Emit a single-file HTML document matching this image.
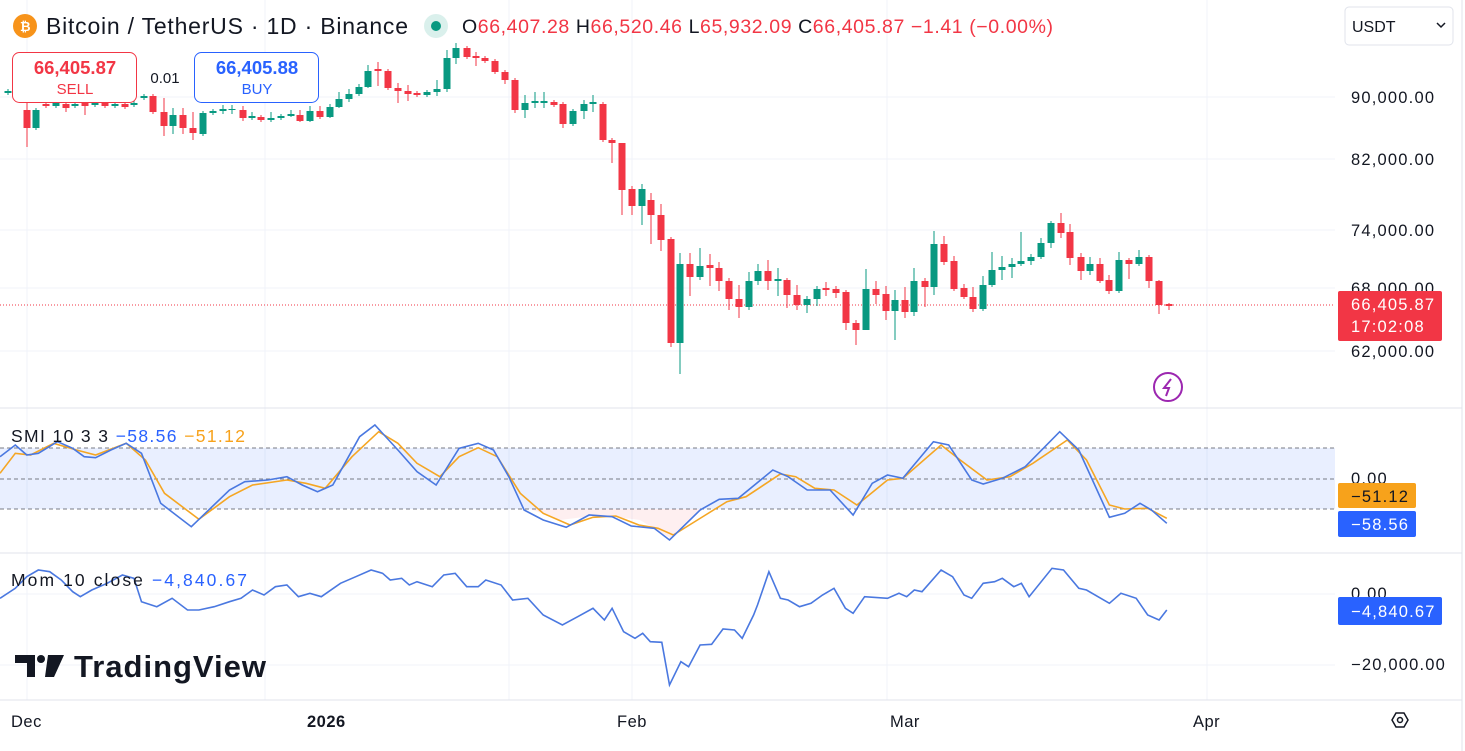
<!DOCTYPE html>
<html><head><meta charset="utf-8"><style>
body{margin:0;width:1465px;height:751px;overflow:hidden;background:#fff;font-family:"Liberation Sans","DejaVu Sans",sans-serif;}
svg{position:absolute;left:0;top:0}
</style></head><body>
<svg id="s" width="1465" height="751" xmlns="http://www.w3.org/2000/svg"></svg>
<script>
const S=document.getElementById('s');let h='';
const G='#089981',R='#f23645';
[97,159,230,288,351].forEach(y=>h+=`<line x1="0" x2="1335" y1="${y}" y2="${y}" stroke="#f0f3fa"/>`);
[27,265,509,632,887,1207].forEach(x=>h+=`<line x1="${x}" x2="${x}" y1="0" y2="700" stroke="#f0f3fa"/>`);
h+=`<line x1="0" x2="1462" y1="408" y2="408" stroke="#e0e3eb"/><line x1="0" x2="1462" y1="553" y2="553" stroke="#e0e3eb"/><line x1="0" x2="1462" y1="700" y2="700" stroke="#e0e3eb"/><line x1="1462" x2="1462" y1="0" y2="751" stroke="#e0e3eb"/>`;
h+=`<line x1="0" x2="1335" y1="594" y2="594" stroke="#f0f3fa"/><line x1="0" x2="1335" y1="665" y2="665" stroke="#f0f3fa"/>`;
h+=`<line x1="0" x2="1335" y1="305" y2="305" stroke="${R}" stroke-dasharray="1 2"/>`;
const C=[[8,91,93,'g'],[17,92,94,'r'],[27,110,128,'r',100,147],[36,110,128,'g'],[46,104,106,'r'],[56,103,106,'g'],[66,104,108,'r',100,112],[75,104,106,'g'],[85,103,106,'r',100,115],[95,103,105,'g'],[105,103,106,'r'],[115,104,106,'g'],[125,104,107,'r'],[134,103,105,'g'],[144,96,98,'g'],[153,96,112,'r'],[164,112,126,'r',98,136],[173,115,126,'g',108,134],[183,115,128,'r',108,134],[193,128,133,'r',112,140],[203,113,134,'g'],[213,111,113,'g'],[223,109,111,'g',105,114],[232,109,110,'g',105,114],[243,110,118,'r',106,121],[252,116,118,'g',112,120],[261,117,120,'r'],[271,118,120,'g',112,122],[281,116,118,'g'],[291,114,116,'g',110,117],[300,115,121,'r',110,122],[310,111,121,'g',106,122],[320,111,117,'r',106,119],[330,107,117,'g',104,118],[339,99,107,'g',92,108],[349,94,99,'g',89,102],[359,87,94,'g',84,96],[368,71,87,'g',65,88],[378,69,71,'r',62,86],[388,71,88,'r'],[398,88,91,'r',83,103],[408,91,94,'r',85,101],[417,93,95,'r'],[427,92,95,'g'],[437,89,92,'g',80,96],[447,58,89,'g',50,92],[456,48,58,'g',43,64],[467,48,57,'r'],[476,56,58,'r',52,66],[485,58,61,'r'],[495,61,72,'r'],[505,72,80,'r',70,84],[515,80,110,'r',78,113],[525,103,110,'g',95,118],[535,101,103,'g',92,108],[544,101,103,'g',92,108],[554,102,105,'r'],[563,104,124,'r',102,128],[573,111,124,'g'],[584,104,111,'g',100,119],[593,102,104,'g',95,112],[603,104,140,'r'],[612,140,143,'r',138,163],[622,143,190,'r',143,215],[632,189,206,'r',186,215],[642,189,206,'g',184,225],[651,200,215,'r',193,244],[661,215,240,'r',204,251],[671,239,343,'r',237,347],[680,264,343,'g',253,374],[690,264,277,'r',253,296],[700,266,277,'g',248,280],[710,265,268,'r',254,286],[719,268,281,'r',262,291],[729,281,299,'r',278,310],[739,299,307,'r',285,318],[749,281,307,'g',272,310],[758,271,281,'g',264,285],[768,271,281,'r',260,290],[778,279,281,'g',268,296],[787,280,295,'r',278,308],[797,295,305,'r',285,310],[807,299,305,'g',296,313],[817,289,299,'g',286,306],[826,288,290,'r',282,296],[836,289,293,'r',286,298],[846,292,323,'r',290,330],[856,323,330,'r',320,345],[866,289,330,'g',269,330],[876,289,295,'r',281,304],[886,294,311,'r',286,320],[895,300,311,'g',290,340],[905,300,312,'r',287,318],[914,281,312,'g',268,316],[925,281,287,'r',278,307],[934,244,287,'g',231,295],[944,244,262,'r',236,265],[954,261,289,'r',256,291],[964,288,297,'r',284,299],[973,297,309,'r',287,312],[983,285,309,'g',276,311],[992,270,285,'g',252,287],[1002,267,270,'g',256,280],[1012,264,267,'g',258,278],[1021,261,264,'g',232,266],[1031,257,261,'g',254,265],[1041,243,257,'g',238,259],[1051,223,243,'g',221,248],[1061,223,233,'r',213,238],[1070,232,258,'r',224,265],[1081,257,271,'r',253,280],[1090,264,271,'g',257,275],[1100,264,281,'r',258,283],[1109,280,291,'r',275,294],[1119,260,291,'g',252,293],[1129,260,264,'r',258,279],[1139,257,264,'g',250,266],[1149,257,281,'r',255,288],[1159,281,305,'r',280,314],[1169,304,306,'r',303,310]];
C.forEach(c=>{const col=c[3]=='g'?G:R;const hi=c[4]??c[1]-2,lo=c[5]??c[2]+2;
h+=`<line x1="${c[0]}" x2="${c[0]}" y1="${hi}" y2="${lo}" stroke="${col}"/><rect x="${c[0]-3.5}" y="${c[1]}" width="7" height="${Math.max(1,c[2]-c[1])}" fill="${col}"/>`;});
h+=`<rect x="0" y="448" width="1335" height="61" fill="#2962ff" fill-opacity="0.1"/>`;
[448,479,509].forEach(y=>h+=`<line x1="0" x2="1335" y1="${y}" y2="${y}" stroke="#787b86" stroke-dasharray="4 3"/>`);
const pl=(pts,sx,oy,col)=>'<polyline fill="none" stroke="'+col+'" stroke-width="1.6" points="'+pts.map(p=>(p[0]/sx).toFixed(1)+','+(oy+p[1]/3).toFixed(1)).join(' ')+'"/>';
const B=[[0,140],[20,105],[35,135],[50,130],[75,95],[95,115],[110,140],[125,143],[145,120],[165,100],[185,130],[210,280],[250,350],[300,240],[320,215],[350,210],[375,200],[395,225],[415,245],[435,225],[470,80],[490,45],[520,120],[545,185],[570,225],[600,115],[625,100],[645,120],[665,200],[685,300],[710,330],[740,352],[770,315],[800,320],[825,348],[855,355],[875,390],[915,300],[940,268],[965,265],[1010,180],[1030,200],[1055,240],[1085,240],[1115,315],[1140,220],[1160,195],[1180,205],[1220,95],[1240,105],[1270,210],[1285,222],[1310,205],[1340,170],[1385,65],[1410,120],[1450,322],[1470,310],[1490,280],[1505,300],[1525,340]];
const O=[[0,190],[20,130],[40,135],[70,100],[100,120],[125,135],[165,100],[190,150],[215,250],[260,328],[300,260],[330,225],[375,210],[400,220],[425,235],[460,140],[495,65],[520,100],[545,160],[575,200],[600,140],[625,113],[650,140],[680,250],[710,310],[745,345],[775,322],[805,318],[835,345],[860,355],[880,375],[920,318],[950,275],[975,260],[1020,192],[1040,200],[1065,235],[1090,240],[1120,285],[1160,210],[1180,205],[1230,105],[1255,150],[1290,210],[1320,200],[1350,160],[1395,90],[1420,150],[1450,285],[1470,297],[1500,295],[1525,325]];
h+=`<polygon points="530,509 560,520 600,515 640,520 670,538 700,509" fill="#f23645" fill-opacity="0.08"/>`;
h+=pl(O,1.307,410,'#f5a623')+pl(B,1.307,410,'#4a78e0');
const M=[[0,130],[20,100],[35,65],[50,45],[65,50],[80,75],[95,110],[105,125],[120,105],[140,85],[160,60],[175,70],[185,140],[205,155],[225,130],[245,165],[260,165],[280,155],[300,140],[315,130],[330,105],[345,120],[360,95],[375,90],[390,125],[405,115],[420,125],[445,85],[465,65],[485,45],[500,55],[510,75],[525,70],[535,90],[545,80],[565,95],[580,60],[595,55],[610,95],[625,95],[635,75],[655,90],[670,135],[690,130],[710,180],[735,210],[755,185],[775,160],[790,195],[800,160],[815,230],[830,250],[840,235],[850,260],[865,262],[875,390],[890,320],[900,335],[915,270],[930,268],[945,222],[960,225],[970,250],[985,180],[990,150],[1005,50],[1020,130],[1030,135],[1045,155],[1060,145],[1075,120],[1090,100],[1105,160],[1115,175],[1130,125],[1160,130],[1175,115],[1185,125],[1195,105],[1205,110],[1230,45],[1245,65],[1260,120],[1270,130],[1285,85],[1300,80],[1310,70],[1325,95],[1335,85],[1345,125],[1375,40],[1390,45],[1410,100],[1420,105],[1450,145],[1465,115],[1485,130],[1500,180],[1515,195],[1525,165]];
h+=pl(M,1.307,555,'#4a78e0');
const t=(x,y,s,o)=>h+=`<text x="${x}" y="${y}" ${o||''}>${s}</text>`;
const LS='letter-spacing="1.2"';
h+='<g font-size="16.5" fill="#131722" letter-spacing="1.2">';
[[97,'90,000.00'],[159,'82,000.00'],[230,'74,000.00'],[288,'68,000.00'],[351,'62,000.00'],[478,'0.00'],[593,'0.00'],[664,'−20,000.00']].forEach(a=>t(1351,a[0]+6,a[1]));
h+='</g>';
h+=`<rect x="1338" y="291" width="104" height="50" rx="2" fill="${R}"/>`;
t(1351,310,'66,405.87','font-size="16.5" fill="#fff" '+LS);t(1351,332,'17:02:08','font-size="16.5" fill="#fff" '+LS);
h+=`<rect x="1338" y="483" width="78" height="25" rx="2" fill="#f7a21b"/>`;t(1351,502,'−51.12','font-size="16.5" fill="#131722" '+LS);
h+=`<rect x="1338" y="511" width="78" height="26" rx="2" fill="#2962ff"/>`;t(1351,530,'−58.56','font-size="16.5" fill="#fff" '+LS);
h+=`<rect x="1338" y="597" width="104" height="28" rx="2" fill="#2962ff"/>`;t(1351,617,'−4,840.67','font-size="16.5" fill="#fff" '+LS);
h+=`<rect x="1345" y="7" width="108" height="38" rx="4" fill="#fff" stroke="#e0e3eb"/>`;t(1352,32,'USDT','font-size="16" fill="#131722"');
h+=`<path d="M1437 23 l4 4 l4 -4" stroke="#131722" fill="none" stroke-width="1.5"/>`;
h+=`<polygon points="1392,720 1396,713 1404,713 1408,720 1404,727 1396,727" fill="none" stroke="#131722" stroke-width="1.5"/><circle cx="1400" cy="720" r="2.5" fill="none" stroke="#131722" stroke-width="1.5"/>`;
h+='<g font-size="16.5" fill="#131722" letter-spacing="0.5">';t(11,727,'Dec');t(307,727,'2026','font-weight="bold"');t(617,727,'Feb');t(890,727,'Mar');t(1193,727,'Apr');h+='</g>';
h+=`<circle cx="25" cy="26" r="12" fill="#f7931a"/>`;t(20,31,'₿','font-size="13" fill="#fff" font-weight="bold"');
h+=`<text x="46" y="34" font-size="23" fill="#131722" textLength="362">Bitcoin / TetherUS · 1D · Binance</text>`;
h+=`<circle cx="436" cy="26" r="12" fill="#089981" fill-opacity="0.15"/><circle cx="436" cy="26" r="5" fill="#089981"/>`;
h+=`<text x="462" y="33" font-size="19.5" fill="${R}" textLength="591"><tspan fill="#131722">O</tspan>66,407.28 <tspan fill="#131722">H</tspan>66,520.46 <tspan fill="#131722">L</tspan>65,932.09 <tspan fill="#131722">C</tspan>66,405.87 −1.41 (−0.00%)</text>`;
h+=`<rect x="12.5" y="52.5" width="124" height="50" rx="7" fill="#fff" stroke="${R}"/>`;t(75,74,'66,405.87','font-size="18.5" font-weight="bold" fill="'+R+'" text-anchor="middle"');t(75,94,'SELL','font-size="15" fill="'+R+'" text-anchor="middle"');
t(165,83,'0.01','font-size="15" fill="#131722" text-anchor="middle"');
h+=`<rect x="194.5" y="52.5" width="124" height="50" rx="7" fill="#fff" stroke="#2962ff"/>`;t(257,74,'66,405.88','font-size="18.5" font-weight="bold" fill="#2962ff" text-anchor="middle"');t(257,94,'BUY','font-size="15" fill="#2962ff" text-anchor="middle"');
h+=`<text x="11" y="442" font-size="17.5" fill="#131722" textLength="234">SMI 10 3 3 <tspan fill="#2962ff">−58.56</tspan> <tspan fill="#f7a21b">−51.12</tspan></text>`;
h+=`<text x="11" y="586" font-size="17.5" fill="#131722" textLength="236">Mom 10 close <tspan fill="#2962ff">−4,840.67</tspan></text>`;
h+=`<circle cx="1168" cy="387" r="14" fill="none" stroke="#9c27b0" stroke-width="2"/><path d="M1171 379 l-7 9 h5 l-3 8" stroke="#9c27b0" fill="none" stroke-width="2"/>`;
h+=`<path d="M15 655 h20 v22 h-8 v-14 h-12z" fill="#131722"/><circle cx="41" cy="659" r="4" fill="#131722"/><path d="M48 655 h16 l-10 22 h-9z" fill="#131722"/>`;
t(74,677,'TradingView','font-size="31" font-weight="bold" fill="#131722" textLength="192"');
S.innerHTML=h;
</script>
</body></html>
